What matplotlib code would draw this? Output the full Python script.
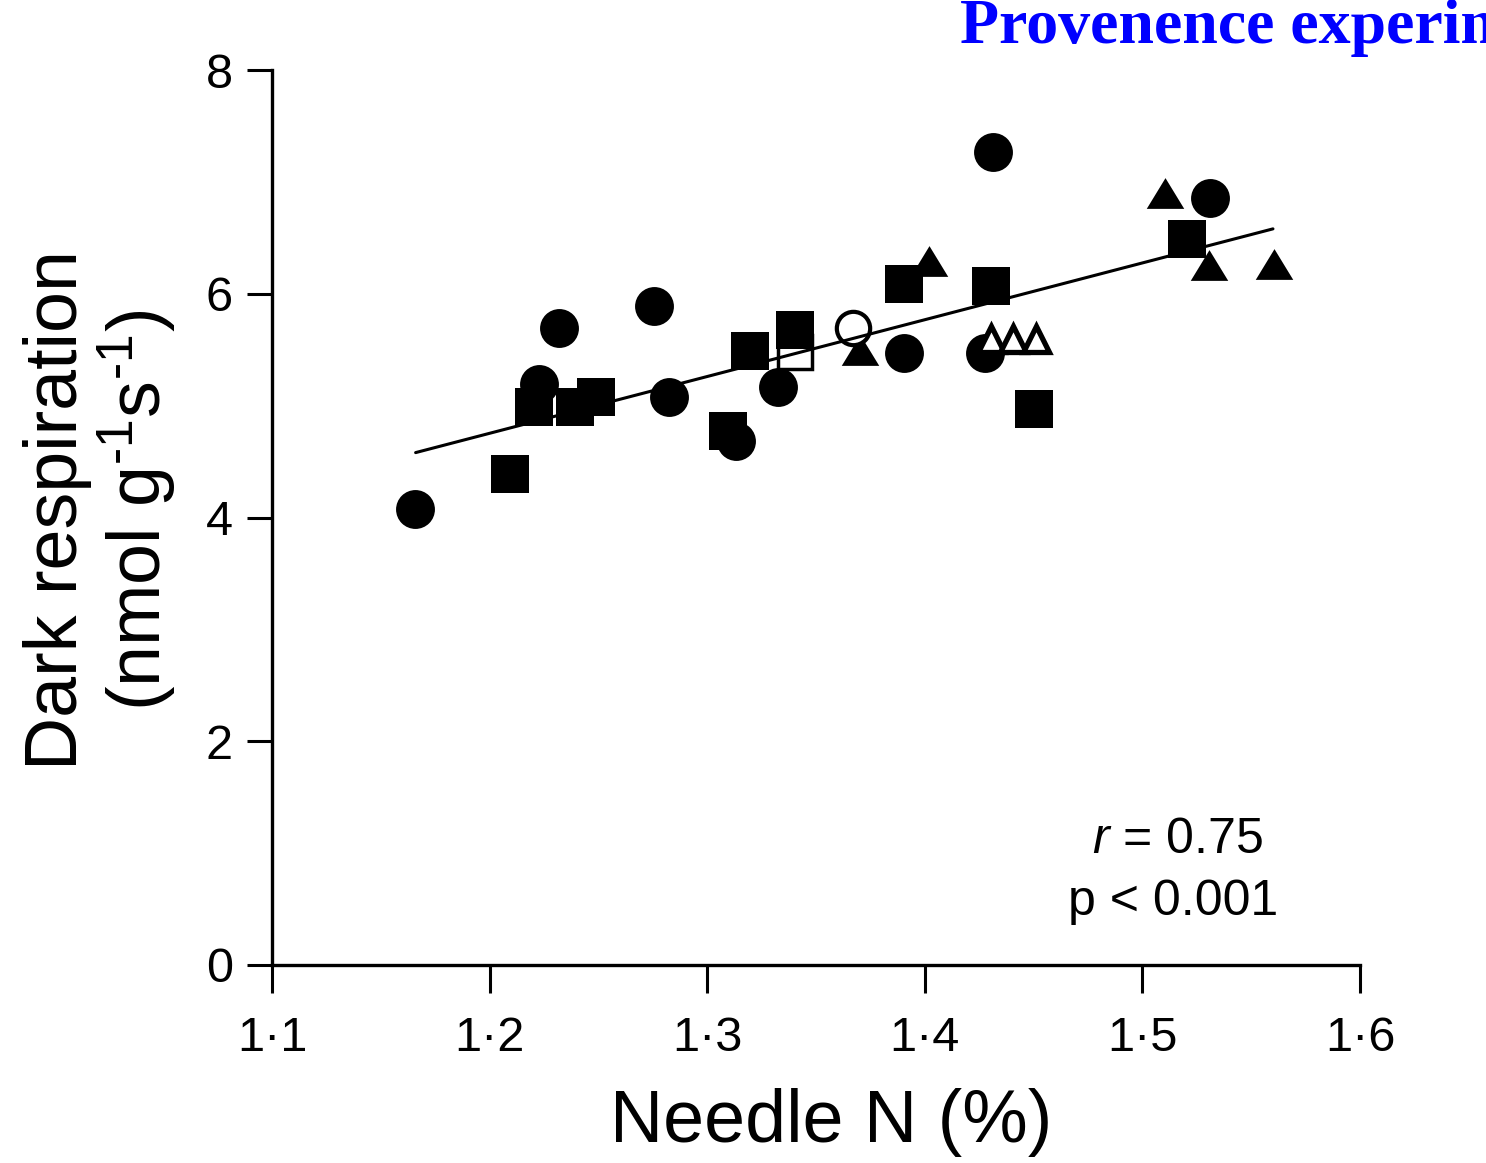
import matplotlib
matplotlib.use("Agg")
import matplotlib.pyplot as plt

plt.rcParams['font.family'] = ['Liberation Sans', 'DejaVu Sans']
plt.rcParams['mathtext.fontset'] = 'custom'
plt.rcParams['mathtext.rm'] = 'Liberation Sans'
plt.rcParams['mathtext.it'] = 'Liberation Sans:italic'

# ---- data ----
circle_x = [1.1656, 1.2225, 1.2317, 1.2757, 1.2826, 1.3326, 1.3133, 1.3904, 1.4312, 1.4275, 1.5312]
circle_y = [4.08, 5.19, 5.69, 5.89, 5.08, 5.17, 4.68, 5.47, 7.27, 5.47, 6.86]

square_x = [1.2096, 1.2202, 1.2394, 1.2491, 1.3096, 1.3197, 1.3404, 1.3904, 1.4303, 1.4500, 1.5206]
square_y = [4.39, 4.99, 4.99, 5.08, 4.77, 5.49, 5.68, 6.09, 6.07, 4.97, 6.49]

triangle_x = [1.4018, 1.3702, 1.5106, 1.5307, 1.5606]
triangle_y = [6.29, 5.50, 6.90, 6.26, 6.27]

open_circle_x = [1.3670]
open_circle_y = [5.69]

open_square_x = [1.3404]
open_square_y = [5.48]

open_triangle_x = [1.4303, 1.4404, 1.4509]
open_triangle_y = [5.60, 5.60, 5.60]

fit_x = [1.166, 1.560]
fit_y = [4.58, 6.58]

x_ticks = [1.1, 1.2, 1.3, 1.4, 1.5, 1.6]
x_tick_labels = ['1\u00b71', '1\u00b72', '1\u00b73', '1\u00b74', '1\u00b75', '1\u00b76']
y_ticks = [0, 2, 4, 6, 8]
y_tick_labels = ['0', '2', '4', '6', '8']

# ---- figure ----
W, H = 1486, 1163
fig = plt.figure(figsize=(W / 100, H / 100), dpi=100)
ax = fig.add_axes([272 / W, (H - 965) / H, (1360 - 272) / W, (965 - 70) / H])

tri = [(-1, -0.82), (1, -0.82), (0, 0.82)]

ax.plot(open_square_x, open_square_y, linestyle='none', marker='s', markersize=25,
        markerfacecolor='white', markeredgecolor='black', markeredgewidth=2.5, zorder=2, clip_on=False)
ax.plot(circle_x, circle_y, linestyle='none', marker='o', markersize=28,
        markerfacecolor='black', markeredgecolor='black', markeredgewidth=0, zorder=3, clip_on=False)
ax.plot(square_x, square_y, linestyle='none', marker='s', markersize=27,
        markerfacecolor='black', markeredgecolor='black', markeredgewidth=0, zorder=3, clip_on=False)
ax.plot(triangle_x, triangle_y, linestyle='none', marker=tri, markersize=27,
        markerfacecolor='black', markeredgecolor='black', markeredgewidth=0, zorder=3, clip_on=False)
ax.plot(open_circle_x, open_circle_y, linestyle='none', marker='o', markersize=24,
        markerfacecolor='white', markeredgecolor='black', markeredgewidth=3, zorder=4, clip_on=False)
ax.plot(open_triangle_x, open_triangle_y, linestyle='none', marker='^', markersize=19,
        markerfacecolor='white', markeredgecolor='black', markeredgewidth=3.8, zorder=4, clip_on=False)
ax.plot(fit_x, fit_y, color='black', linewidth=2.2, zorder=5, solid_capstyle='round')

ax.set_xlim(1.1, 1.6)
ax.set_ylim(0, 8)
for s in ['top', 'right']:
    ax.spines[s].set_visible(False)
for s in ['left', 'bottom']:
    ax.spines[s].set_linewidth(2.4)

ax.set_xticks(x_ticks)
ax.set_xticklabels(x_tick_labels)
ax.set_yticks(y_ticks)
ax.set_yticklabels(y_tick_labels)
ax.tick_params(axis='x', direction='out', length=20, width=2.2, pad=17, labelsize=35)
ax.tick_params(axis='y', direction='out', length=18, width=2.2, pad=10, labelsize=35)

ax.set_xlabel('Needle N (%)', fontsize=53)
ax.xaxis.set_label_coords((831 - 272) / 1088, (965 - 1142) / 895)
ax.xaxis.label.set_va('baseline')

ax.set_ylabel('Dark respiration\n(nmol g$^{\\text{-}1}$s$^{\\text{-}1}$)', fontsize=53, linespacing=1.05)
ax.yaxis.set_label_coords((178 - 272) / 1088, 0.508)

fig.text(1177 / W, (H - 853) / H, '$r$ = 0.75', fontsize=36, ha='center', va='baseline')
fig.text(1173 / W, (H - 915) / H, 'p < 0.001', fontsize=36, ha='center', va='baseline')

fig.text(960 / W, (H - 43) / H, 'Provenence experiment', color='#0000FF', fontsize=46,
         fontweight='bold', family='Liberation Serif', ha='left', va='baseline')

fig.savefig('out.png', dpi=100)
